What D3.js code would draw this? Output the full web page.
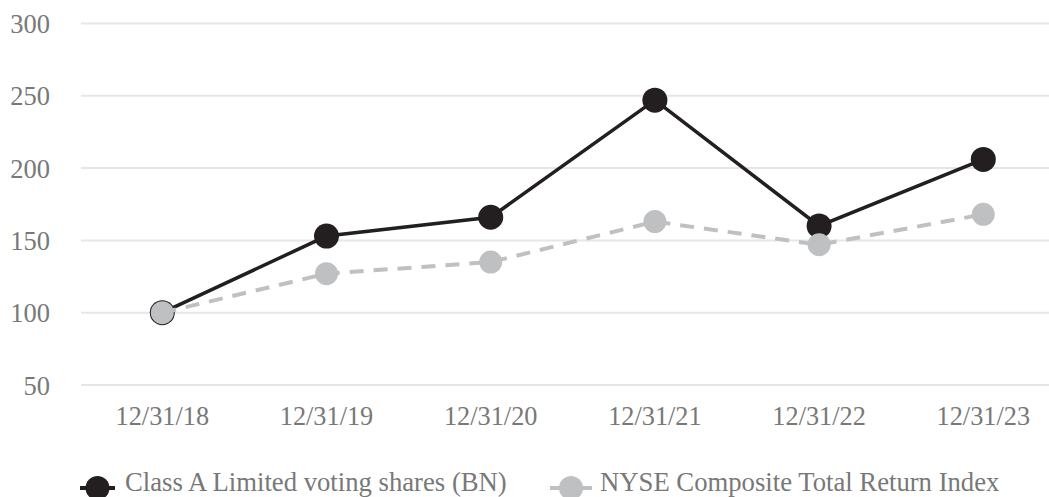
<!DOCTYPE html>
<html>
<head>
<meta charset="utf-8">
<script src="https://cdn.jsdelivr.net/npm/d3@7"></script>
<style>
  body { margin: 0; background: #fff; }
  svg text { font-family: "Liberation Serif", "Times New Roman", serif; fill: #787878; }
</style>
</head>
<body>
<svg id="chart" width="1049" height="497"></svg>
<script>
// valores
const dates = ["12/31/18", "12/31/19", "12/31/20", "12/31/21", "12/31/22", "12/31/23"];
const bnValues = [100, 153, 166, 247, 160, 206];
const nyseValues = [100, 127, 135, 163, 147, 168];
const yTicks = [50, 100, 150, 200, 250, 300];
const seriesNames = ["Class A Limited voting shares (BN)", "NYSE Composite Total Return Index"];

const svg = d3.select("#chart");

// escalas
const x = d3.scalePoint().domain(dates).range([162.3, 983.3]);
const y = d3.scaleLinear().domain([50, 300]).range([385, 23.5]);

const gridLeft = 81, gridRight = 1065;

// lineas de cuadricula
svg.append("g")
  .selectAll("line")
  .data(yTicks)
  .join("line")
  .attr("x1", gridLeft).attr("x2", gridRight)
  .attr("y1", d => y(d)).attr("y2", d => y(d))
  .attr("stroke", "#e6e6e6")
  .attr("stroke-width", 2);

// etiquetas eje Y
svg.append("g")
  .selectAll("text")
  .data(yTicks)
  .join("text")
  .attr("x", 50)
  .attr("y", d => y(d) + 9.5)
  .attr("text-anchor", "end")
  .style("font-size", "26.5px")
  .text(d => d);

// etiquetas eje X
svg.append("g")
  .selectAll("text")
  .data(dates)
  .join("text")
  .attr("x", d => x(d))
  .attr("y", 425)
  .attr("text-anchor", "middle")
  .style("font-size", "26.3px")
  .text(d => d);

const bn = dates.map((d, i) => ({ date: d, value: bnValues[i] }));
const nyse = dates.map((d, i) => ({ date: d, value: nyseValues[i] }));

const line = d3.line()
  .x(d => x(d.date))
  .y(d => y(d.value));

// serie BN
svg.append("path")
  .datum(bn)
  .attr("fill", "none")
  .attr("stroke", "#231f20")
  .attr("stroke-width", 3.5)
  .attr("d", line);

svg.append("g")
  .selectAll("circle")
  .data(bn)
  .join("circle")
  .attr("cx", d => x(d.date))
  .attr("cy", d => y(d.value))
  .attr("r", 12.5)
  .attr("fill", "#231f20");

// serie NYSE
svg.append("path")
  .datum(nyse)
  .attr("fill", "none")
  .attr("stroke", "#bfc0c2")
  .attr("stroke-width", 4)
  .attr("stroke-dasharray", "14,10")
  .attr("d", line);

svg.append("g")
  .selectAll("circle")
  .data(nyse)
  .join("circle")
  .attr("cx", d => x(d.date))
  .attr("cy", d => y(d.value))
  .attr("r", 11.5)
  .attr("fill", "#bfc0c2");

// leyenda
const legend = [
  { name: seriesNames[0], color: "#231f20", x0: 80, x1: 115, tx: 125 },
  { name: seriesNames[1], color: "#bfc0c2", x0: 550, x1: 592, tx: 600 }
];
const ly = 488;
const lg = svg.append("g").selectAll("g").data(legend).join("g");
lg.append("line")
  .attr("x1", d => d.x0).attr("x2", d => d.x1)
  .attr("y1", ly).attr("y2", ly)
  .attr("stroke", d => d.color)
  .attr("stroke-width", 4);
lg.append("circle")
  .attr("cx", d => (d.x0 + d.x1) / 2)
  .attr("cy", ly)
  .attr("r", 12)
  .attr("fill", d => d.color);
lg.append("text")
  .attr("x", d => d.tx)
  .attr("y", 491)
  .style("font-size", "26.7px")
  .text(d => d.name);
</script>
</body>
</html>
